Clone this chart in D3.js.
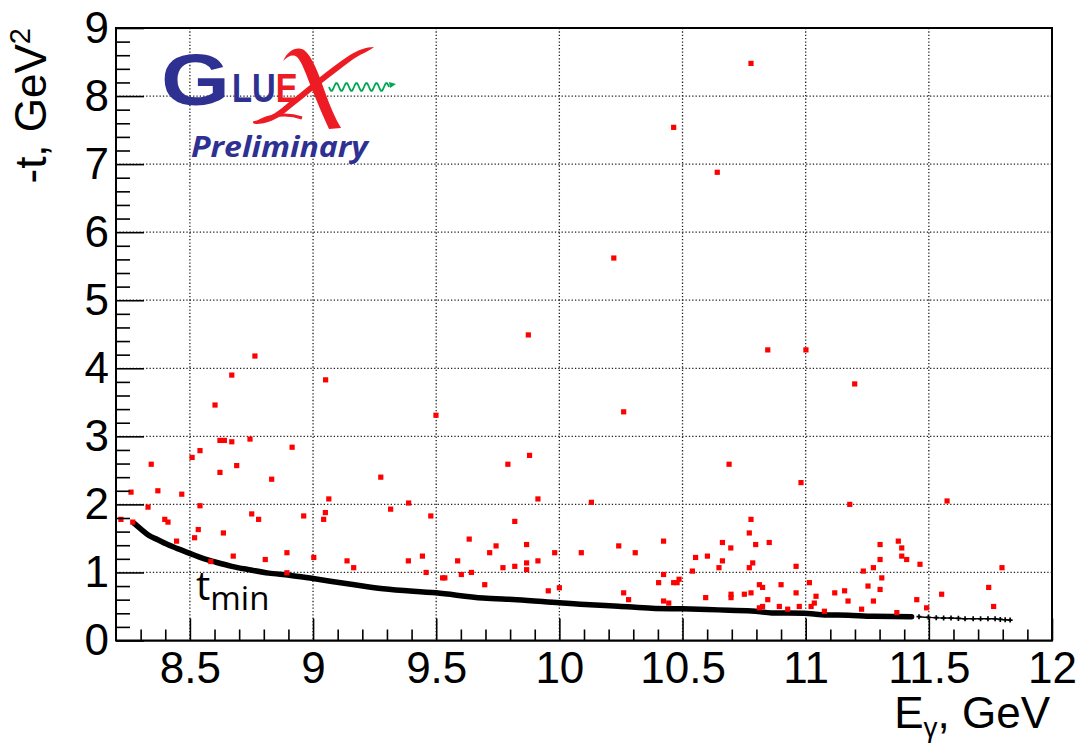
<!DOCTYPE html>
<html><head><meta charset="utf-8">
<script src="https://cdn.jsdelivr.net/npm/d3@7/dist/d3.min.js"></script>
<style>body{margin:0;background:#fff}svg{display:block}</style>
</head><body>
<svg id="chart" width="1086" height="743"></svg>
<script>
// ---- axis definitions ----
const xDomain = [8.2, 12];
const yDomain = [0, 9];
const xTickValues = [8.5, 9, 9.5, 10, 10.5, 11, 11.5, 12];
const yTickValues = [0, 1, 2, 3, 4, 5, 6, 7, 8, 9];
const xTickLabels = ["8.5", "9", "9.5", "10", "10.5", "11", "11.5", "12"];
const yTickLabels = ["0", "1", "2", "3", "4", "5", "6", "7", "8", "9"];

// ---- t_min kinematic boundary (E_gamma, -t) ----
const tminE = [8.274, 8.30, 8.335, 8.37, 8.403, 8.45, 8.5, 8.55, 8.606, 8.67, 8.741, 8.82, 8.904, 9.0, 9.147, 9.285, 9.5, 9.69, 9.827, 10.0, 10.124, 10.239, 10.375, 10.5, 10.645, 10.781, 10.862, 10.993, 11.065, 11.173, 11.275, 11.43];
const tminT = [1.72, 1.64, 1.54, 1.48, 1.42, 1.35, 1.28, 1.21, 1.15, 1.09, 1.04, 0.99, 0.96, 0.91, 0.83, 0.76, 0.70, 0.625, 0.60, 0.555, 0.525, 0.505, 0.475, 0.465, 0.45, 0.435, 0.405, 0.40, 0.38, 0.37, 0.355, 0.35];
// sparse tail of the boundary (individual markers)
const tailE = [11.46, 11.498, 11.53, 11.56, 11.59, 11.62, 11.647, 11.68, 11.71, 11.74, 11.769, 11.79, 11.81, 11.83];
const tailT = [0.35, 0.34, 0.335, 0.33, 0.33, 0.325, 0.32, 0.32, 0.32, 0.32, 0.32, 0.31, 0.305, 0.30];

// ---- events (E_gamma, -t) ----
const eventE = [
 8.67, 9.051, 8.602, 8.622, 8.64, 8.67, 8.744, 8.915, 8.541, 8.509, 8.343, 8.622, 8.69, 8.832, 8.261, 8.37, 8.467, 9.064, 8.33, 8.541,
 8.751, 8.779, 8.962, 9.05, 9.043, 8.22, 8.268, 8.398, 8.411, 8.534, 8.519, 8.636, 8.446, 8.676, 8.806, 8.894, 9.003, 9.138, 9.165, 8.585,
 8.894, 9.315, 9.388, 9.387,
 9.499, 9.275, 9.791, 9.879, 9.478, 9.913, 9.819, 9.634, 9.743, 9.717, 9.867, 9.981, 10.089, 9.444, 9.587, 9.913, 9.867, 9.819, 9.771, 9.867,
 9.459, 9.602, 9.643, 9.526, 9.535, 9.697, 9.955, 10.13,
 10.261, 10.689, 10.981, 10.778, 10.771, 10.241, 10.308, 10.423, 10.662, 10.696, 10.797, 10.852, 10.553, 10.601, 10.662, 10.648, 10.785, 10.771, 10.54, 10.961,
 10.423, 10.403, 10.464, 10.478, 10.486, 10.0, 10.261, 10.281, 10.423, 10.444, 10.594, 10.697, 10.697, 10.751, 10.778, 10.812, 10.825, 10.846, 10.9, 10.961,
 11.015, 11.042, 11.035, 11.022, 10.974, 10.927, 10.893, 10.812, 10.825, 11.076,
 11.199, 11.179, 11.574, 11.376, 11.39, 11.302, 11.302, 11.39, 11.41, 11.464, 11.234, 11.275, 11.309, 11.797, 11.253, 11.302, 11.118, 11.158, 11.172, 11.275,
 11.451, 11.552, 11.743, 11.763, 11.491, 11.227, 11.37,
 10.778, 10.464, 10.641, 10.221, 9.874, 10.846, 11.001, 8.764
];
const eventT = [
 3.90, 3.83, 3.46, 2.94, 2.94, 2.92, 2.96, 2.84, 2.79, 2.69, 2.59, 2.47, 2.57, 2.37, 2.18, 2.20, 2.15, 2.08, 1.96, 1.98,
 1.86, 1.78, 1.83, 1.88, 1.78, 1.78, 1.74, 1.78, 1.74, 1.63, 1.51, 1.58, 1.46, 1.24, 1.19, 1.29, 1.22, 1.17, 1.07, 1.16,
 0.995, 1.93, 2.02, 1.17,
 3.31, 2.40, 2.59, 2.72, 1.83, 2.08, 1.75, 1.49, 1.39, 1.29, 1.41, 1.29, 1.29, 1.24, 1.17, 1.17, 1.14, 1.09, 1.07, 1.04,
 1.0, 0.97, 1.0, 0.92, 0.92, 0.82, 0.73, 2.03,
 3.36, 2.59, 2.32, 1.78, 1.58, 1.39, 1.29, 1.46, 1.44, 1.36, 1.41, 1.44, 1.22, 1.24, 1.17, 1.07, 1.14, 1.07, 1.02, 1.09,
 0.97, 0.85, 0.85, 0.85, 0.90, 0.775, 0.70, 0.60, 0.58, 0.55, 0.63, 0.68, 0.63, 0.68, 0.70, 0.82, 0.78, 0.60, 0.82, 0.70,
 0.85, 0.65, 0.55, 0.50, 0.50, 0.46, 0.50, 0.48, 0.50, 0.43,
 3.77, 2.0, 2.05, 1.46, 1.36, 1.41, 1.19, 1.24, 1.19, 1.12, 1.02, 1.07, 0.92, 1.07, 0.80, 0.75, 0.70, 0.73, 0.58, 0.58,
 0.60, 0.68, 0.78, 0.50, 0.48, 0.46, 0.41,
 8.48, 7.54, 6.88, 5.62, 4.49, 4.27, 4.27, 4.18
];

// ---- layout ----
const W = 1086, H = 743;
const pL = 116, pR = 1052, pT = 28, pB = 640.5;
const FONT = "'Liberation Sans', Arial, Helvetica, sans-serif";

const svg = d3.select("#chart");
svg.append("rect").attr("width", W).attr("height", H).attr("fill", "#fff");

const x = d3.scaleLinear().domain(xDomain).range([pL, pR]);
const y = d3.scaleLinear().domain(yDomain).range([pB, pT]);

// ---- grid ----
const grid = svg.append("g").attr("stroke", "#222").attr("stroke-width", 1.3).attr("stroke-dasharray", "1.3 2.05");
grid.selectAll("line.gx").data(xTickValues.filter(d => d > xDomain[0] && d < xDomain[1]))
  .join("line").attr("class", "gx")
  .attr("x1", d => x(d)).attr("x2", d => x(d)).attr("y1", pT).attr("y2", pB);
grid.selectAll("line.gy").data(yTickValues.filter(d => d > yDomain[0] && d < yDomain[1]))
  .join("line").attr("class", "gy")
  .attr("y1", d => y(d)).attr("y2", d => y(d)).attr("x1", pL).attr("x2", pR);

// ---- t_min boundary ----
const tminPts = tminE.map((e, i) => [e, tminT[i]]);
const line = d3.line().x(d => x(d[0])).y(d => y(d[1])).curve(d3.curveMonotoneX);
svg.append("path").datum(tminPts).attr("d", line)
  .attr("fill", "none").attr("stroke", "#000").attr("stroke-width", 5.5).attr("stroke-linecap", "round");
const tailPts = tailE.map((e, i) => [e, tailT[i]]);
svg.append("path").datum(tailPts).attr("d", line)
  .attr("fill", "none").attr("stroke", "#000").attr("stroke-width", 1.4);
svg.append("g").selectAll("path").data(tailPts).join("path")
  .attr("d", d3.symbol().type(d3.symbolCross).size(14))
  .attr("transform", d => `translate(${x(d[0])},${y(d[1])})`)
  .attr("fill", "#000");

// ---- events ----
const events = eventE.map((e, i) => [e, eventT[i]]);
const S = 5.2;
svg.append("g").selectAll("rect").data(events).join("rect")
  .attr("x", d => x(d[0]) - S / 2).attr("y", d => y(d[1]) - S / 2)
  .attr("width", S).attr("height", S).attr("fill", "#ff0000");

// ---- axes ----
const xMinor = d3.range(83, 120).map(v => v / 10).filter(v => Math.abs(v * 2 - Math.round(v * 2)) > 1e-6);
const yMinor = d3.range(1, 45).map(v => v / 5).filter(v => Math.abs(v - Math.round(v)) > 1e-6);

const gxMinor = svg.append("g").attr("transform", `translate(0,${pB})`)
  .call(d3.axisBottom(x).tickValues(xMinor).tickSize(-11).tickFormat(""));
gxMinor.select(".domain").remove();
const gyMinor = svg.append("g").attr("transform", `translate(${pL},0)`)
  .call(d3.axisLeft(y).tickValues(yMinor).tickSize(-14).tickFormat(""));
gyMinor.select(".domain").remove();

const gx = svg.append("g").attr("transform", `translate(0,${pB})`)
  .call(d3.axisBottom(x).tickValues(xTickValues).tickSizeInner(-22).tickSizeOuter(0).tickPadding(11)
    .tickFormat((d, i) => xTickLabels[i]));
const gy = svg.append("g").attr("transform", `translate(${pL},0)`)
  .call(d3.axisLeft(y).tickValues(yTickValues).tickSizeInner(-28).tickSizeOuter(0).tickPadding(7)
    .tickFormat((d, i) => yTickLabels[i]));
[gx, gy].forEach(g => {
  g.attr("font-family", FONT).attr("font-size", 44);
  g.selectAll("text").attr("fill", "#000");
});
svg.selectAll(".tick line").attr("stroke", "#000").attr("stroke-width", 1.6);

// frame
svg.append("rect").attr("x", pL).attr("y", pT).attr("width", pR - pL).attr("height", pB - pT)
  .attr("fill", "none").attr("stroke", "#000").attr("stroke-width", 2);

// ---- axis titles ----
const xt = svg.append("text").attr("x", 1050).attr("y", 728).attr("text-anchor", "end")
  .attr("font-family", FONT).attr("font-size", 44).attr("fill", "#000");
xt.append("tspan").text("E");
xt.append("tspan").attr("font-size", 28).attr("dy", 9).text("γ");
xt.append("tspan").attr("dy", -9).text(", GeV");

const yt = svg.append("text").attr("transform", "translate(46,28) rotate(-90)").attr("text-anchor", "end")
  .attr("font-family", FONT).attr("font-size", 44).attr("fill", "#000");
yt.append("tspan").text("-t, GeV");
yt.append("tspan").attr("font-size", 29).attr("dy", -16).text("2");

// ---- t_min label ----
const tl = svg.append("text").attr("x", 196).attr("y", 600).attr("font-family", "'Open Sans', sans-serif").attr("fill", "#000");
tl.append("tspan").attr("font-size", 40).text("t");
tl.append("tspan").attr("font-size", 33).attr("dy", 10).text("min");

// ---- GlueX logo ----
const BLUE = "#2e3192", RED = "#ed1c24", GREEN = "#00a651";
const logo = svg.append("g");
logo.append("text").attr("x", 161).attr("y", 105).attr("font-family", FONT).attr("font-weight", "bold")
  .attr("font-size", 72).attr("fill", BLUE).attr("textLength", 69).attr("lengthAdjust", "spacingAndGlyphs").text("G");
const lue = logo.append("text").attr("transform", "translate(232,102) scale(0.8,1)").attr("font-family", FONT)
  .attr("font-weight", "bold").attr("font-size", 41);
lue.append("tspan").attr("fill", BLUE).text("LU");
lue.append("tspan").attr("fill", RED).text("E");
// stylised X: thick downstroke with top hook
logo.append("path").attr("d", "M283,61 C288,50 297,46 304,50 C312,56 318,72 325,92 C330,106 335,118 341,128 L329,129 C323,116 318,104 313,92 C306,74 302,62 297,57 C293,54 288,56 283,61 Z").attr("fill", RED);
// thin cross stroke from top-right to bottom-left
logo.append("path").attr("d", "M374,47 C368,52 360,54 352,60 C330,76 306,96 286,112 C276,120 266,124 256,124 C253,124 252,122 254,121 C263,120 272,116 282,108 C304,90 330,68 350,55 C358,50 366,47 374,47 Z").attr("fill", RED);
logo.append("path").attr("d", "M256,123 C270,114 288,113 302,118").attr("fill", "none").attr("stroke", RED).attr("stroke-width", 3);
// wavy photon
const wave = d3.range(0, 61, 1).map(i => [329 + i, 87 + 4 * Math.sin(i / 10 * 2 * Math.PI)]);
logo.append("path").attr("d", d3.line()(wave)).attr("fill", "none").attr("stroke", GREEN).attr("stroke-width", 1.8);
logo.append("path").attr("d", "M389,82 L396,84 L390,88 Z").attr("fill", GREEN);
logo.append("text").attr("x", 191).attr("y", 157).attr("font-family", "'Open Sans', sans-serif").attr("font-weight", "bold")
  .attr("font-style", "italic").attr("font-size", 28).attr("fill", BLUE)
  .attr("textLength", 177).attr("lengthAdjust", "spacingAndGlyphs").text("Preliminary");
</script>
</body></html>
